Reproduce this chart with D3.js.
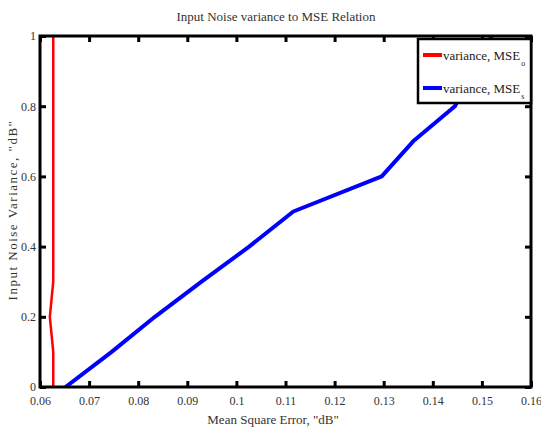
<!DOCTYPE html>
<html>
<head>
<meta charset="utf-8">
<script src="https://cdn.jsdelivr.net/npm/d3@7"></script>
<style>
  html, body { margin: 0; padding: 0; background: #fff; }
  svg { display: block; }
  text { font-family: "Liberation Serif", "DejaVu Serif", serif; }
</style>
</head>
<body>
<svg id="chart" width="541" height="428"></svg>
<script>
// Input noise variance (y) against mean square error (x)
const varianceLevels = [0, 0.1, 0.2, 0.3, 0.4, 0.5, 0.6, 0.7, 0.8, 0.9, 1.0];
const mseO = [0.0627, 0.0627, 0.0620, 0.0627, 0.0627, 0.0627, 0.0627, 0.0627, 0.0627, 0.0627, 0.0627];
const mseS = [0.0652, 0.0746, 0.0834, 0.0929, 0.1026, 0.1116, 0.1296, 0.1360, 0.1445, 0.1483, 0.1520];

const xTicks = [0.06, 0.07, 0.08, 0.09, 0.10, 0.11, 0.12, 0.13, 0.14, 0.15, 0.16];
const yTicks = [0, 0.2, 0.4, 0.6, 0.8, 1];

const seriesNames = ["variance, MSE", "variance, MSE"];
const seriesSubs = ["o", "s"];
const seriesColors = ["#ff0000", "#0000ff"];
const seriesWidths = [2.5, 4];

const titleText = "Input Noise variance to MSE Relation";
const xLabel = "Mean Square Error, \"dB\"";
const yLabel = "Input Noise Variance, \"dB\"";

const svg = d3.select("#chart");
const plot = { left: 40, right: 531, top: 36, bottom: 387 };

const x = d3.scaleLinear().domain([0.06, 0.16]).range([plot.left, plot.right]);
const y = d3.scaleLinear().domain([0, 1]).range([plot.bottom, plot.top]);
const fmt = d => String(+d.toFixed(2));

// clip lines to the plotting box
svg.append("defs").append("clipPath").attr("id", "plotClip")
  .append("rect")
  .attr("x", plot.left).attr("y", plot.top)
  .attr("width", plot.right - plot.left).attr("height", plot.bottom - plot.top);

// series
const line = d3.line().x(d => x(d[0])).y(d => y(d[1]));
[mseO, mseS].forEach((vals, i) => {
  const pts = vals.map((v, k) => [v, varianceLevels[k]]);
  svg.append("path")
    .datum(pts)
    .attr("clip-path", "url(#plotClip)")
    .attr("fill", "none")
    .attr("stroke", seriesColors[i])
    .attr("stroke-width", seriesWidths[i])
    .attr("stroke-linejoin", "round")
    .attr("d", line);
});

// axes with inward ticks on all sides
function styleAxis(g) {
  g.select(".domain").remove();
  g.selectAll(".tick line").attr("stroke", "#000").attr("stroke-width", 3);
  g.selectAll(".tick text")
    .attr("fill", "#333")
    .style("font-size", "12px")
    .style("font-family", "\"Liberation Serif\", serif");
}

const xAxisB = svg.append("g")
  .attr("transform", `translate(0,${plot.bottom})`)
  .call(d3.axisBottom(x).tickValues(xTicks).tickFormat(fmt).tickSizeInner(-6).tickSizeOuter(0).tickPadding(9));
styleAxis(xAxisB);

const xAxisT = svg.append("g")
  .attr("transform", `translate(0,${plot.top})`)
  .call(d3.axisTop(x).tickValues(xTicks).tickFormat("").tickSizeInner(-6).tickSizeOuter(0));
styleAxis(xAxisT);

const yAxisL = svg.append("g")
  .attr("transform", `translate(${plot.left},0)`)
  .call(d3.axisLeft(y).tickValues(yTicks).tickFormat(fmt).tickSizeInner(-6).tickSizeOuter(0).tickPadding(4));
styleAxis(yAxisL);

const yAxisR = svg.append("g")
  .attr("transform", `translate(${plot.right},0)`)
  .call(d3.axisRight(y).tickValues(yTicks).tickFormat("").tickSizeInner(-6).tickSizeOuter(0));
styleAxis(yAxisR);

// frame
svg.append("rect")
  .attr("x", plot.left).attr("y", plot.top)
  .attr("width", plot.right - plot.left).attr("height", plot.bottom - plot.top)
  .attr("fill", "none").attr("stroke", "#000").attr("stroke-width", 3);

// legend
const legend = svg.append("g").attr("transform", "translate(418,39)");
legend.append("rect")
  .attr("width", 113).attr("height", 64)
  .attr("fill", "#fff").attr("stroke", "#000").attr("stroke-width", 2.5);
seriesNames.forEach((name, i) => {
  const row = legend.append("g").attr("transform", `translate(0,${16 + i * 33})`);
  row.append("line")
    .attr("x1", 5).attr("x2", 24).attr("y1", 0).attr("y2", 0)
    .attr("stroke", seriesColors[i]).attr("stroke-width", 4);
  const t = row.append("text")
    .attr("x", 25).attr("y", 5)
    .attr("fill", "#222")
    .style("font-size", "13px");
  t.append("tspan").text(name);
  t.append("tspan").attr("dy", 6).attr("dx", 1).style("font-size", "8px").text(seriesSubs[i]);
});

// titles
svg.append("text")
  .attr("x", 276).attr("y", 21)
  .attr("text-anchor", "middle")
  .attr("fill", "#333")
  .style("font-size", "13px")
  .text(titleText);

svg.append("text")
  .attr("x", 273).attr("y", 424)
  .attr("text-anchor", "middle")
  .attr("fill", "#333")
  .style("font-size", "13px")
  .text(xLabel);

svg.append("text")
  .attr("transform", "translate(17,210) rotate(-90)")
  .attr("text-anchor", "middle")
  .attr("fill", "#333")
  .style("font-size", "13px")
  .style("letter-spacing", "1.5px")
  .text(yLabel);
</script>
</body>
</html>
